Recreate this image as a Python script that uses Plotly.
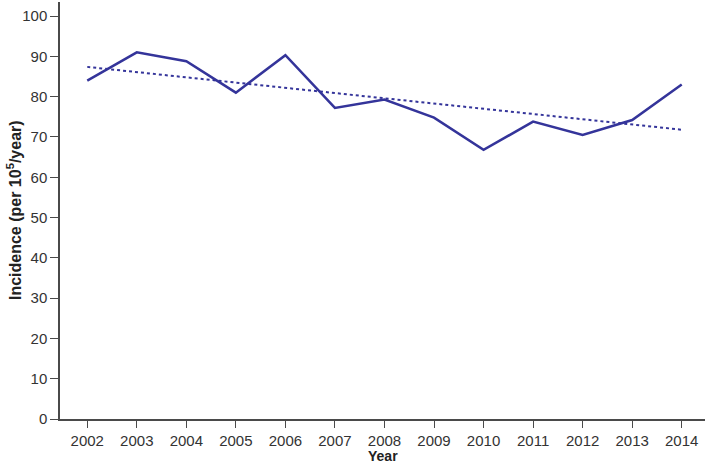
import plotly.graph_objects as go

# values
years = [2002, 2003, 2004, 2005, 2006, 2007, 2008, 2009, 2010, 2011, 2012, 2013, 2014]
incidence = [84.0, 91.0, 88.8, 81.0, 90.3, 77.2, 79.3, 74.8, 66.8, 73.8, 70.5, 74.2, 83.0]

# trend line end points
trend_years = [2002, 2014]
trend_values = [87.4, 71.8]

line_color = "#34349a"
axis_color = "#4a4a4a"

fig = go.Figure()

fig.add_trace(go.Scatter(
    x=trend_years, y=trend_values, mode="lines",
    line=dict(color=line_color, width=2, dash="dot"),
    showlegend=False, hoverinfo="skip"
))

fig.add_trace(go.Scatter(
    x=years, y=incidence, mode="lines",
    line=dict(color=line_color, width=2.5),
    showlegend=False
))

fig.update_layout(
    width=709, height=466,
    margin=dict(l=60, r=4, t=2, b=47),
    plot_bgcolor="white", paper_bgcolor="white",
    font=dict(family="Liberation Sans, Arial, sans-serif", size=15, color="#333333"),
)

fig.update_xaxes(
    range=[2001.45, 2014.47], automargin=False,
    tickmode="array", tickvals=years, ticktext=[str(y) for y in years],
    showline=True, linecolor=axis_color, linewidth=1.5,
    ticks="outside", tickcolor=axis_color, ticklen=7, tickwidth=1.2,
    showgrid=False, zeroline=False,
)

fig.update_yaxes(
    range=[0, 103.5], automargin=False,
    tickmode="array", tickvals=list(range(0, 101, 10)),
    showline=True, linecolor=axis_color, linewidth=1.5,
    ticks="outside", tickcolor=axis_color, ticklen=8, tickwidth=1.2,
    showgrid=False, zeroline=False,
)

# axis titles placed as annotations for exact positions
fig.add_annotation(
    text="<b>Year</b>", xref="paper", yref="paper", x=0.5, y=-0.113,
    xanchor="center", yanchor="bottom", showarrow=False,
    font=dict(size=14, color="#222222"),
)
fig.add_annotation(
    text="<b>Incidence (per 10<sup>5</sup>/year)</b>", xref="paper", yref="paper",
    x=-0.072, y=0.5, xanchor="center", yanchor="middle", textangle=-90,
    showarrow=False, font=dict(size=16, color="#222222"),
)

# drop the default page margin so the figure fills the window
fig.write_html("out.html", config={"displayModeBar": False},
               post_script="document.body.style.margin='0';")
